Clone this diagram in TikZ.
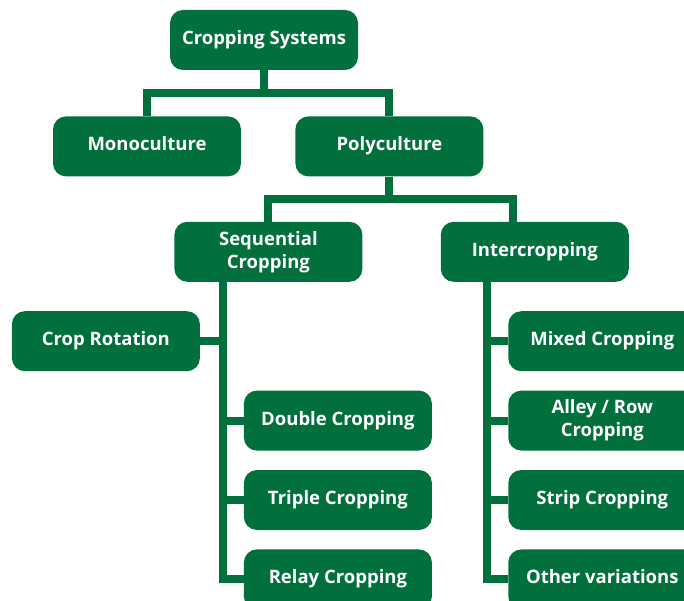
\documentclass[tikz,border=0pt]{standalone}
\usepackage{fontspec}
\setmainfont{Open Sans}
\usetikzlibrary{positioning}
\definecolor{cropgreen}{RGB}{2,112,60}

\begin{document}
\begin{tikzpicture}[x=1pt, y=1pt,
                box/.style={fill=cropgreen, text=white, minimum width=188pt, minimum height=60pt,
                            align=center, font=\bfseries\fontsize{18.5}{23}\selectfont,
                            rounded corners=13pt, inner sep=2pt},
                onel/.style={box, text height=13.5pt, text depth=4.5pt},
                link/.style={draw=cropgreen, line width=8pt}]

                % Page frame
                \useasboundingbox (0,0) rectangle (684,-601);

                % Top levels
                \node[onel] (root) at (264,-40) {Cropping Systems};
                \node[onel, below=46pt of root, xshift=-117pt] (mono) {Monoculture};
                \node[onel, right=54pt of mono] (poly) {Polyculture};
                \node[box, below=45pt of poly, xshift=-121pt] (seq) {Sequential\\Cropping};
                \node[onel, right=78pt of seq] (inter) {Intercropping};

                % Sequential cropping - left side
                \node[onel, below=29pt of seq, xshift=-162.5pt] (rot) {Crop Rotation};
                \node[onel, below=19pt of rot, xshift=232pt] (dbl) {Double Cropping};
                \node[onel, below=19pt of dbl] (trp) {Triple Cropping};
                \node[onel, below=19pt of trp] (rly) {Relay Cropping};

                % Intercropping - right side
                \node[onel, below=29pt of inter, xshift=67.5pt] (mix) {Mixed Cropping};
                \node[box, below=19pt of mix] (alley) {Alley / Row\\Cropping};
                \node[onel, below=19pt of alley] (strip) {Strip Cropping};
                \node[onel, below=19pt of strip] (other) {Other variations};

                % Spines of the two lower groups
                \coordinate (sx) at ([xshift=-21pt]dbl.west);
                \coordinate (ix) at ([xshift=-21pt]mix.west);

                % Tree links
                \draw[link] (root.south) -- ++(0,-23) -| (mono.north);
                \draw[link] (root.south) -- ++(0,-23) -| (poly.north);
                \draw[link] (poly.south) -- ++(0,-22.5) -| (seq.north);
                \draw[link] (poly.south) -- ++(0,-22.5) -| ([xshift=-22pt]inter.north);

                % Sequential branches
                \draw[link] (sx |- seq.south) |- (rly.west);
                \draw[link] (rot.east) -- (rot.east -| sx);
                \draw[link] (dbl.west) -- (dbl.west -| sx);
                \draw[link] (trp.west) -- (trp.west -| sx);

                % Intercropping branches
                \draw[link] (ix |- inter.south) |- (other.west);
                \draw[link] (mix.west) -- (mix.west -| ix);
                \draw[link] (alley.west) -- (alley.west -| ix);
                \draw[link] (strip.west) -- (strip.west -| ix);
            \end{tikzpicture}
\end{document}
